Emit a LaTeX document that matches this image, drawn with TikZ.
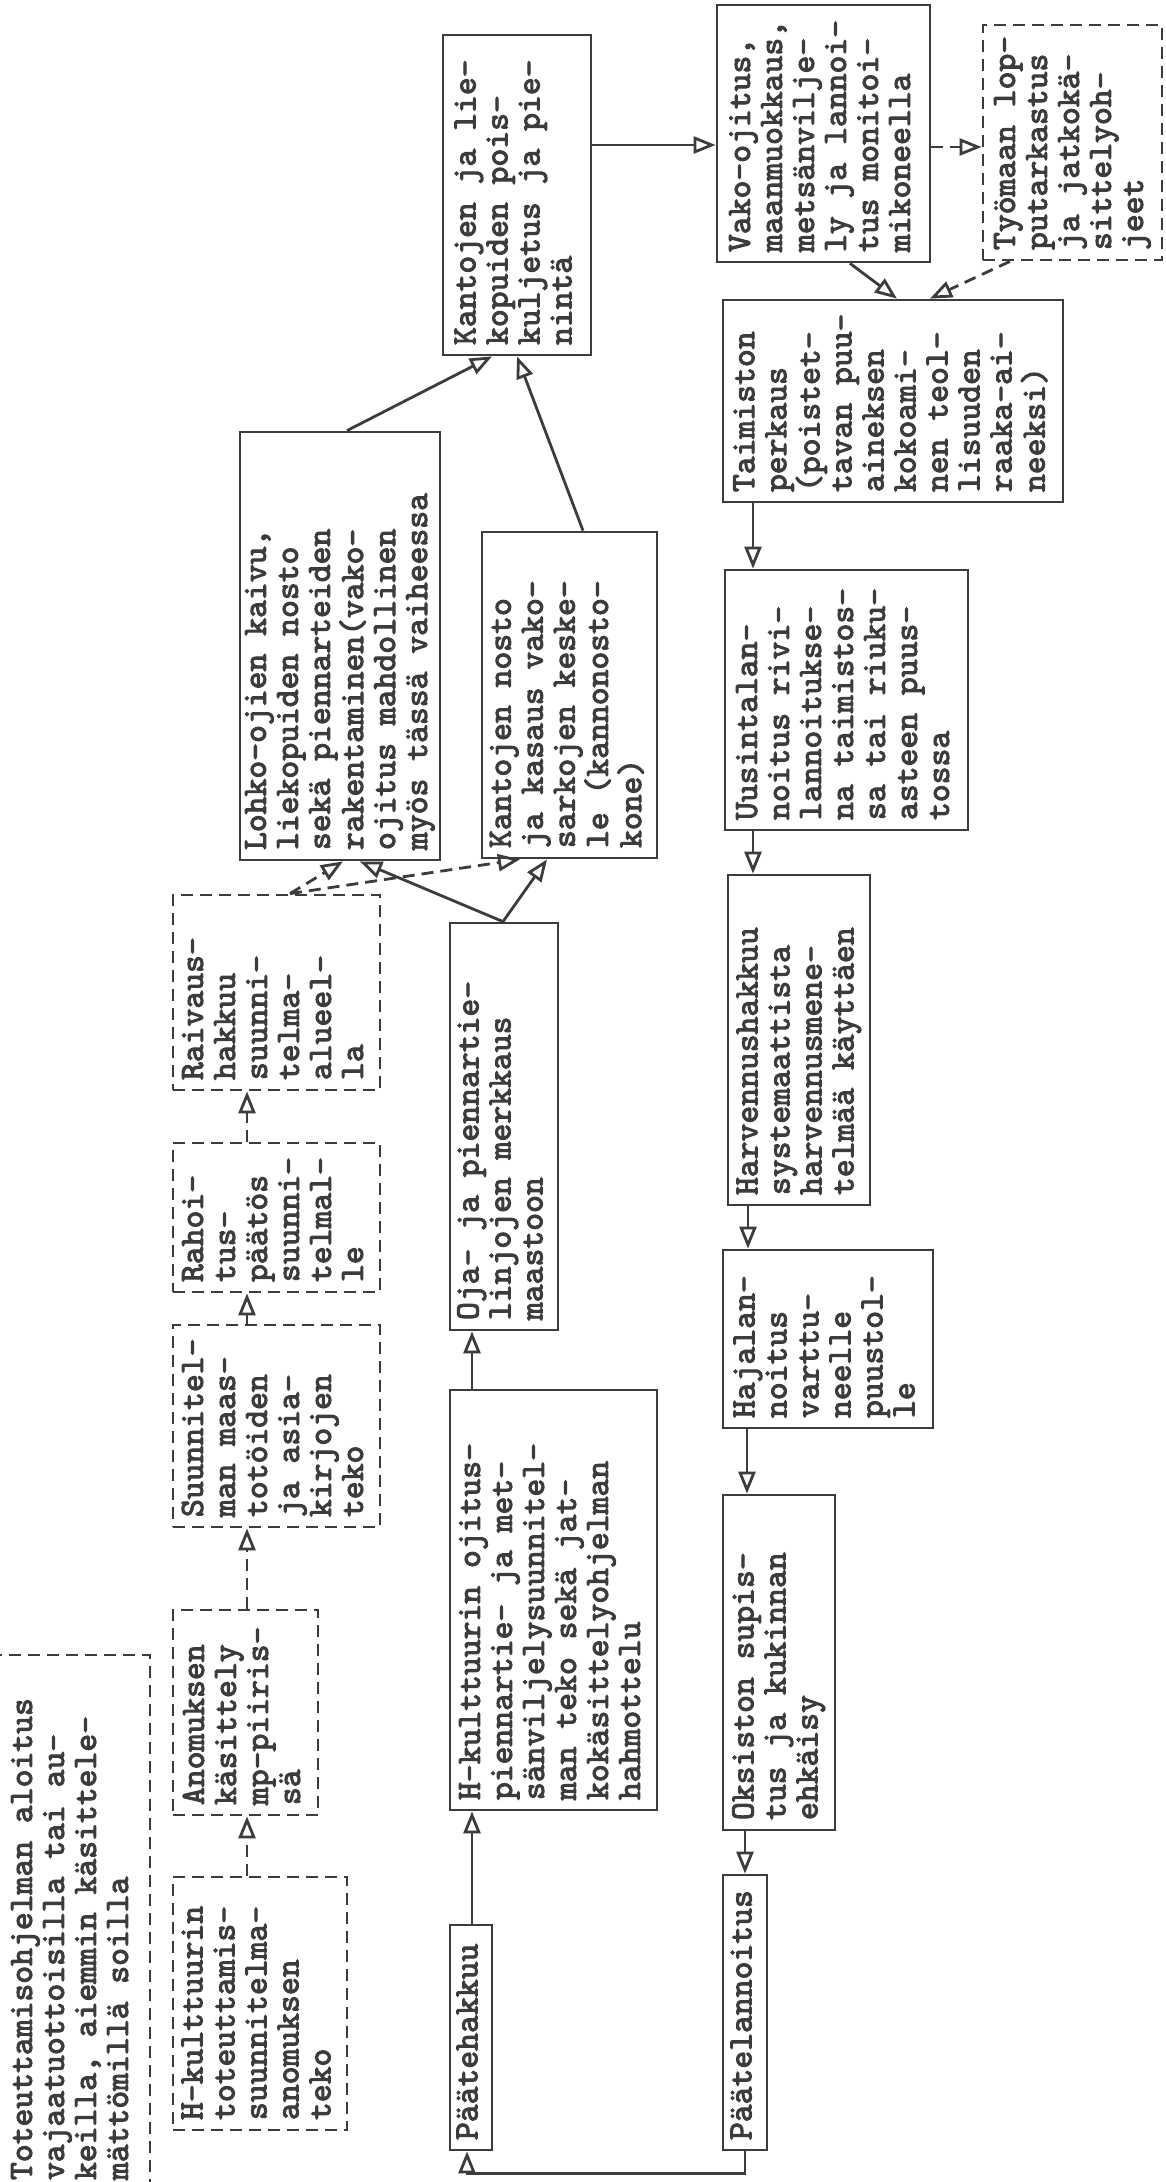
\documentclass[tikz,border=0pt]{standalone}
\usepackage{graphicx}
\usepackage{fontspec}
\newfontfamily\tw{lmmono10-regular.otf}[FakeBold=3]
\usetikzlibrary{arrows.meta}
\definecolor{ink}{RGB}{60,60,60}
\newcommand{\vt}[2]{\rotatebox{90}{\makebox[#1][l]{\begin{tabular}{@{}l@{}}#2\end{tabular}}}}
\begin{document}
\begin{tikzpicture}[x=1pt,y=-1pt,
  sbox/.style={draw=ink, line width=2.8pt, inner sep=0pt, text=ink, font=\fontsize{34}{32}\selectfont\tw},
  dbox/.style={sbox, dash pattern=on 12pt off 7pt},
  arr/.style={draw=ink, line width=2.8pt, -{Triangle[open,length=22pt,width=17pt]}},
  darr/.style={arr, dash pattern=on 12pt off 7pt}]
\fill[white] (0,0) rectangle (1165,2182);
\useasboundingbox (0,0) rectangle (1165,2182);

% left column
\node[dbox, minimum width=153pt, minimum height=535pt] (TOT) at (73.5,1922.5) {\vt{515pt}{Toteuttamisohjelman aloitus\\vajaatuottoisilla tai au-\\keilla, aiemmin käsittele-\\mättömillä soilla}};
\node[dbox, minimum width=174pt, minimum height=253pt] (HKA) at (260,2003.5) {\vt{233pt}{H-kulttuurin\\toteuttamis-\\suunnitelma-\\anomuksen\\teko}};
\node[dbox, minimum width=145pt, minimum height=205pt] (ANO) at (245.5,1712.5) {\vt{185pt}{Anomuksen\\käsittely\\mp-piiris-\\sä}};
\node[dbox, minimum width=207pt, minimum height=202pt] (SUU) at (276.5,1426) {\vt{182pt}{Suunnitel-\\man maas-\\totöiden\\ja asia-\\kirjojen\\teko}};
\node[dbox, minimum width=207pt, minimum height=149pt] (RAH) at (276.5,1217.5) {\vt{129pt}{Rahoi-\\tus-\\päätös\\suunni-\\telmal-\\le}};
\node[dbox, minimum width=207pt, minimum height=195pt] (RAI) at (276.5,992.5) {\vt{175pt}{Raivaus-\\hakkuu\\suunni-\\telma-\\alueel-\\la}};

% middle
\node[sbox, minimum width=200pt, minimum height=428pt] (LOH) at (340,646) {\vt{408pt}{Lohko-ojien kaivu,\\liekopuiden nosto\\sekä piennarteiden\\rakentaminen(vako-\\ojitus mahdollinen\\myös tässä vaiheessa}};
\node[sbox, minimum width=175pt, minimum height=326pt] (KNO) at (569.5,695) {\vt{306pt}{Kantojen nosto\\ja kasaus vako-\\sarkojen keske-\\le (kannonosto-\\kone)}};
\node[sbox, minimum width=148pt, minimum height=320pt] (K3) at (517,195) {\vt{300pt}{Kantojen ja lie-\\kopuiden pois-\\kuljetus ja pie-\\nintä}};
\node[sbox, minimum width=108pt, minimum height=407pt] (OJA) at (504,1126.5) {\vt{387pt}{Oja- ja piennartie-\\linjojen merkkaus\\maastoon}};
\node[sbox, minimum width=207pt, minimum height=420pt] (HKO) at (553.5,1600) {\vt{400pt}{H-kulttuurin ojitus-\\piennartie- ja met-\\sänviljelysuunnitel-\\man teko sekä jat-\\kokäsittelyohjelman\\hahmottelu}};
\node[sbox, minimum width=42pt, minimum height=225pt] (PHA) at (471,2037.5) {\vt{205pt}{Päätehakkuu}};

% right column
\node[sbox, minimum width=213pt, minimum height=257pt] (VAK) at (823.5,133.5) {\vt{237pt}{Vako-ojitus,\\maanmuokkaus,\\metsänvilje-\\ly ja lannoi-\\tus monitoi-\\mikoneella}};
\node[dbox, minimum width=179pt, minimum height=235pt] (TYO) at (1072.5,142.5) {\vt{215pt}{Työmaan lop-\\putarkastus\\ja jatkokä-\\sittelyoh-\\jeet}};
\node[sbox, minimum width=340pt, minimum height=202pt] (TAI) at (893,401) {\vt{182pt}{Taimiston\\perkaus\\(poistet-\\tavan puu-\\aineksen\\kokoami-\\nen teol-\\lisuuden\\raaka-ai-\\neeksi)}};
\node[sbox, minimum width=243pt, minimum height=260pt] (UUS) at (846.5,700) {\vt{240pt}{Uusintalan-\\noitus rivi-\\lannoitukse-\\na taimistos-\\sa tai riuku-\\asteen puus-\\tossa}};
\node[sbox, minimum width=142pt, minimum height=330pt] (HAR) at (799,1040) {\vt{310pt}{Harvennushakkuu\\systemaattista\\harvennusmene-\\telmää käyttäen}};
\node[sbox, minimum width=210pt, minimum height=178pt] (HAJ) at (828,1339) {\vt{158pt}{Hajalan-\\noitus\\varttu-\\neelle\\puustol-\\le}};
\node[sbox, minimum width=112pt, minimum height=335pt] (OKS) at (779,1662.5) {\vt{315pt}{Oksiston supis-\\tus ja kukinnan\\ehkäisy}};
\node[sbox, minimum width=44pt, minimum height=275pt] (PLA) at (745,2012.5) {\vt{255pt}{Päätelannoitus}};

% connectors, left chain
\draw[darr] ([xshift=-13pt]HKA.north) -- ([xshift=1.5pt]ANO.south);
\draw[darr] ([xshift=1.5pt]ANO.north) -- ([xshift=-29.5pt]SUU.south);
\draw[darr] ([xshift=-29.5pt]SUU.north) -- ([xshift=-29.5pt]RAH.south);
\draw[darr] ([xshift=-29.5pt]RAH.north) -- ([xshift=-29.5pt]RAI.south);
\draw[darr] ([xshift=13.5pt]RAI.north) -- ([xshift=3pt]LOH.south);
\draw[darr] ([xshift=13.5pt]RAI.north) -- ([xshift=-49.5pt]KNO.south);
% middle
\draw[arr] ([xshift=1pt]PHA.north) -- ([xshift=-81.5pt]HKO.south);
\draw[arr] ([xshift=-81.5pt]HKO.north) -- ([xshift=-32pt]OJA.south);
\draw[arr] ([xshift=-1pt]OJA.north) -- ([xshift=20pt]LOH.south);
\draw[arr] ([xshift=-1pt]OJA.north) -- ([xshift=-22.5pt]KNO.south);
\draw[arr] ([xshift=7pt]LOH.north) -- ([xshift=-25pt]K3.south);
\draw[arr] ([xshift=13.5pt]KNO.north) -- (K3.south);
\draw[arr] ([yshift=50pt]K3.east) -- ([yshift=-11.5pt]VAK.west);
% right
\draw[darr] ([yshift=-13.5pt]VAK.east) -- ([yshift=-4.5pt]TYO.west);
\draw[arr] ([xshift=26.5pt]VAK.south) -- ([xshift=4pt]TAI.north);
\draw[darr] ([xshift=-62.5pt]TYO.south) -- ([xshift=37pt]TAI.north);
\draw[arr] ([xshift=-140pt]TAI.south) -- ([xshift=-93.5pt]UUS.north);
\draw[arr] ([xshift=-93.5pt]UUS.south) -- ([xshift=-46pt]HAR.north);
\draw[arr] ([xshift=-51pt]HAR.south) -- ([xshift=-80pt]HAJ.north);
\draw[arr] ([xshift=-81pt]HAJ.south) -- ([xshift=-32pt]OKS.north);
\draw[arr] ([xshift=-34pt]OKS.south) -- (PLA.north);
\draw[arr] (PLA.south) -- ++(0,22) -| ([xshift=-4pt]PHA.south);
\end{tikzpicture}
\end{document}
